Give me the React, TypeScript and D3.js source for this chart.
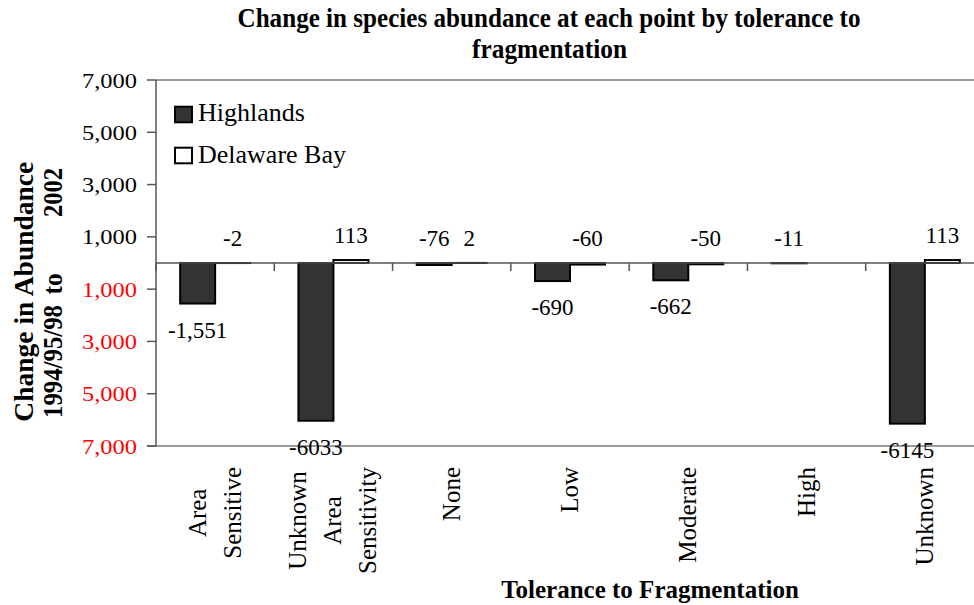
import React, { useMemo } from "react";
import * as d3 from "d3";

const categories: string[][] = [
  ["Area", "Sensitive"],
  ["Unknown", "Area", "Sensitivity"],
  ["None"],
  ["Low"],
  ["Moderate"],
  ["High"],
  ["Unknown"],
];
const seriesNames = ["Highlands", "Delaware Bay"];
const highlands: (number | null)[] = [-1551, -6033, -76, -690, -662, -11, -6145];
const delaware: (number | null)[] = [-2, 113, 2, -60, -50, null, 113];
const highlandsLabels = ["-1,551", "-6033", "-76", "-690", "-662", "-11", "-6145"];
const delawareLabels = ["-2", "113", "2", "-60", "-50", "", "113"];
const yTicks = [7000, 5000, 3000, 1000, -1000, -3000, -5000, -7000];
const titleLines = ["Change in species abundance at each point by tolerance to", "fragmentation"];
const xTitle = "Tolerance to Fragmentation";
const yTitle1 = "Change in Abundance";
const yTitle2 = ["1994/95/98", "to", "2002"];

const W = 974;
const H = 605;
const FONT = "'Liberation Serif', 'Times New Roman', serif";
const fills = ["#333333", "#ffffff"];

export default function App() {
  const left = 156, right = 984, top = 80, bottom = 446;
  const x0 = d3.scaleBand<string>().domain(categories.map((_, i) => String(i))).range([left, right]).paddingInner(0).paddingOuter(0);
  const x1 = d3.scaleBand<string>().domain(seriesNames).range([0, x0.bandwidth()]).paddingInner(0).paddingOuter(0.69);
  const y = d3.scaleLinear().domain([-7000, 7000]).range([bottom, top]);
  const fmt = d3.format(",");

  const measure = useMemo(() => {
    const c = document.createElement("canvas").getContext("2d")!;
    c.font = `25px ${FONT}`;
    return (s: string) => c.measureText(s).width;
  }, []);

  const series = [
    { name: seriesNames[0], values: highlands, labels: highlandsLabels, fill: fills[0] },
    { name: seriesNames[1], values: delaware, labels: delawareLabels, fill: fills[1] },
  ];

  return (
    <svg width={W} height={H} style={{ position: "absolute", left: 0, top: 0, background: "#fff" }} fontFamily={FONT}>
      {/* title */}
      <text x={237.5} y={26.7} fontSize={28} fontWeight="bold" textLength={623} lengthAdjust="spacingAndGlyphs">{titleLines[0]}</text>
      <text x={549.5} y={58} fontSize={28} fontWeight="bold" textAnchor="middle" textLength={155} lengthAdjust="spacingAndGlyphs">{titleLines[1]}</text>

      {/* plot border */}
      <line x1={left} x2={right} y1={top} y2={top} stroke="#777" strokeWidth={1.5} />
      <line x1={left - 9} x2={right} y1={bottom} y2={bottom} stroke="#777" strokeWidth={1.5} />
      <line x1={left} x2={left} y1={top} y2={bottom} stroke="#555" strokeWidth={1.5} />

      {/* y ticks */}
      {yTicks.map((t) => (
        <g key={t}>
          <line x1={left - 9} x2={left} y1={y(t)} y2={y(t)} stroke="#555" strokeWidth={1.5} />
          <text x={137} y={y(t) + 7.5} fontSize={22} textAnchor="end" fill={t < 0 ? "#ff0000" : "#000"} textLength={55} lengthAdjust="spacingAndGlyphs">
            {fmt(Math.abs(t))}
          </text>
        </g>
      ))}

      {/* bars */}
      {series.map((s) =>
        s.values.map((v, i) => {
          if (v === null) return null;
          const bx = (x0(String(i)) as number) + (x1(s.name) as number);
          const y0 = y(Math.max(0, v));
          const y1 = y(Math.min(0, v));
          return (
            <rect key={s.name + i} x={bx} y={y0} width={x1.bandwidth()} height={Math.max(0, y1 - y0)} fill={s.fill} stroke="#000" strokeWidth={2} />
          );
        })
      )}

      {/* zero axis */}
      <line x1={left} x2={right} y1={y(0)} y2={y(0)} stroke="#555" strokeWidth={1.5} />
      {categories.map((_, i) => (
        <line key={i} x1={(x0(String(i)) as number)} x2={(x0(String(i)) as number)} y1={y(0)} y2={y(0) + 8} stroke="#555" strokeWidth={1.5} />
      ))}

      {/* data labels */}
      {series.map((s) =>
        s.values.map((v, i) => {
          if (v === null || !s.labels[i]) return null;
          const cx = (x0(String(i)) as number) + (x1(s.name) as number) + x1.bandwidth() / 2;
          const ly = Math.abs(v) < 500 ? y(Math.max(0, v)) - 17 : y(v) + 34;
          return (
            <text key={"l" + s.name + i} x={cx} y={ly} fontSize={23} textAnchor="middle">{s.labels[i]}</text>
          );
        })
      )}

      {/* category labels */}
      {categories.map((lines, i) => {
        const c = (x0(String(i)) as number) + x0.bandwidth() / 2;
        const maxW = Math.max(...lines.map(measure));
        const cy = 467 + maxW / 2;
        return lines.map((ln, j) => {
          const bx = c + 8 + (j - (lines.length - 1) / 2) * 35;
          return (
            <text key={i + "-" + j} transform={`translate(${bx},${cy}) rotate(-90)`} fontSize={25} textAnchor="middle">{ln}</text>
          );
        });
      })}

      {/* axis titles */}
      <text x={650} y={598} fontSize={25} fontWeight="bold" textAnchor="middle">{xTitle}</text>
      <text transform={`translate(33,291.7) rotate(-90)`} fontSize={28} fontWeight="bold" textAnchor="middle" textLength={260} lengthAdjust="spacingAndGlyphs">{yTitle1}</text>
      <text transform={`translate(61.7,418) rotate(-90)`} fontSize={28} fontWeight="bold" textAnchor="start" textLength={113} lengthAdjust="spacingAndGlyphs">{yTitle2[0]}</text>
      <text transform={`translate(61.7,284) rotate(-90)`} fontSize={28} fontWeight="bold" textAnchor="middle" textLength={21} lengthAdjust="spacingAndGlyphs">{yTitle2[1]}</text>
      <text transform={`translate(61.7,168) rotate(-90)`} fontSize={28} fontWeight="bold" textAnchor="end" textLength={49} lengthAdjust="spacingAndGlyphs">{yTitle2[2]}</text>

      {/* legend */}
      {series.map((s, i) => (
        <g key={"lg" + i}>
          <rect x={175} y={106.7 + i * 41} width={17} height={15.6} fill={s.fill} stroke="#000" strokeWidth={2} />
          <text x={198} y={121 + i * 42} fontSize={26}>{s.name}</text>
        </g>
      ))}
    </svg>
  );
}
